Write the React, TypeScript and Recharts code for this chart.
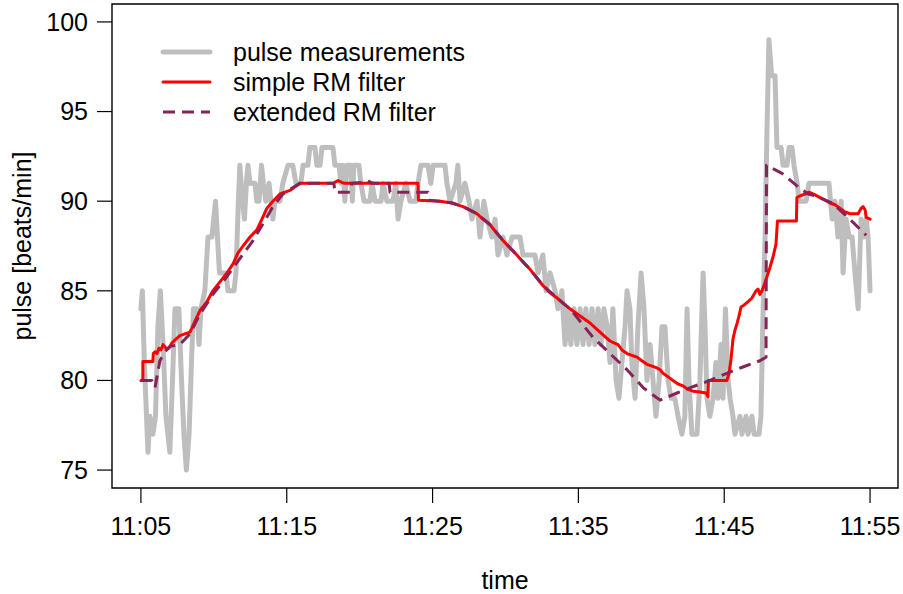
import React from 'react';
import { LineChart, Line, XAxis, YAxis, ReferenceArea, Legend } from 'recharts';

const FONT = '"Liberation Sans", Arial, Helvetica, sans-serif';
const FONT_SIZE = 25;

// time is in seconds after 11:05:00
const timeTicks = [0, 600, 1200, 1800, 2400, 3000];
const timeTickLabels = ['11:05', '11:15', '11:25', '11:35', '11:45', '11:55'];
const pulseTicks = [75, 80, 85, 90, 95, 100];

// [seconds, beats/min]
const pulseMeasurements: [number, number][] = [
  [0, 84], [6, 85], [14, 81], [23, 78], [29, 76], [37, 78], [49, 77], [60, 78], [70, 83], [80, 85],
  [91, 82], [103, 78], [119, 76], [130, 80], [140, 84], [156, 84], [167, 80], [177, 77], [187, 75], [198, 77],
  [208, 81], [216, 84], [230, 84], [239, 82], [247, 84], [263, 85], [276, 88], [292, 88], [307, 90], [315, 88],
  [323, 86], [350, 86], [358, 85], [383, 85], [391, 86], [401, 90], [407, 92], [418, 90], [426, 89], [434, 91],
  [440, 92], [449, 91], [469, 91], [477, 90], [486, 90], [496, 92], [504, 91], [514, 90], [527, 91], [535, 90],
  [543, 89], [551, 90], [572, 90], [584, 91], [605, 92], [625, 92], [638, 91], [658, 91], [667, 92], [687, 92],
  [695, 93], [716, 93], [724, 92], [737, 92], [745, 93], [790, 93], [798, 92], [815, 92], [823, 91], [831, 92],
  [839, 90], [848, 92], [864, 92], [870, 90], [876, 92], [897, 92], [905, 91], [918, 90], [942, 90], [951, 91],
  [963, 90], [988, 90], [996, 91], [1012, 90], [1037, 90], [1049, 91], [1058, 89], [1070, 90], [1090, 91], [1107, 90],
  [1132, 90], [1140, 91], [1152, 92], [1181, 92], [1193, 91], [1202, 92], [1251, 92], [1259, 91], [1272, 90], [1296, 91],
  [1304, 92], [1313, 90], [1333, 91], [1350, 90], [1362, 89], [1383, 90], [1395, 88], [1411, 90], [1424, 89], [1444, 88],
  [1457, 89], [1469, 87], [1490, 88], [1506, 87], [1527, 88], [1560, 88], [1572, 87], [1621, 87], [1634, 86], [1654, 87],
  [1667, 85], [1683, 86], [1704, 85], [1716, 84], [1732, 85], [1745, 82], [1757, 84], [1769, 82], [1782, 84], [1794, 82],
  [1807, 84], [1819, 82], [1831, 84], [1844, 82], [1856, 84], [1868, 82], [1881, 84], [1893, 82], [1905, 84], [1918, 83],
  [1930, 81], [1942, 84], [1955, 80], [1967, 79], [1979, 81], [1992, 83], [2000, 85], [2012, 84], [2020, 81], [2033, 79],
  [2045, 83], [2058, 86], [2070, 84], [2082, 80], [2095, 82], [2107, 80], [2119, 78], [2132, 80], [2144, 83], [2156, 83],
  [2169, 80], [2181, 79], [2197, 79], [2210, 78], [2226, 77], [2238, 78], [2247, 84], [2255, 80], [2267, 77], [2288, 77],
  [2300, 80], [2313, 86], [2321, 83], [2329, 79], [2341, 78], [2354, 79], [2366, 81], [2374, 79], [2387, 82], [2395, 79],
  [2405, 84], [2416, 80], [2424, 79], [2436, 78], [2444, 77], [2465, 78], [2473, 77], [2490, 78], [2498, 77], [2514, 78],
  [2523, 77], [2543, 77], [2551, 78], [2560, 84], [2568, 88], [2576, 94], [2584, 99], [2595, 97], [2609, 97], [2617, 93],
  [2634, 93], [2642, 92], [2658, 92], [2667, 93], [2679, 93], [2687, 92], [2700, 91], [2708, 90], [2737, 90], [2749, 91],
  [2831, 91], [2844, 89], [2856, 90], [2868, 88], [2881, 90], [2889, 86], [2901, 89], [2914, 88], [2926, 88], [2938, 86],
  [2951, 84], [2963, 89], [2975, 88], [2984, 89], [2992, 88], [3000, 85],
];

const simpleRM: [number, number][] = [
  [0, 80.0], [8, 80.0], [8, 81.05], [49, 81.05], [51, 81.5], [58, 81.6], [66, 81.5], [74, 81.8], [82, 81.7], [91, 82.0],
  [103, 81.8], [115, 81.8], [128, 82.1], [144, 82.3], [160, 82.5], [181, 82.6], [202, 82.7], [222, 83.3], [243, 83.9], [272, 84.4],
  [296, 85.0], [325, 85.5], [354, 86.0], [379, 86.5], [399, 87.1], [420, 87.5], [449, 88.0], [477, 88.4], [498, 89.0], [518, 89.6],
  [543, 90.0], [572, 90.4], [613, 90.6], [654, 91.0], [790, 91.0], [811, 91.15], [835, 91.0], [1140, 91.0], [1142, 90.05], [1230, 90.0],
  [1280, 89.9], [1325, 89.7], [1354, 89.5], [1383, 89.3], [1407, 89.0], [1436, 88.7], [1465, 88.2], [1490, 87.8], [1518, 87.4], [1547, 87.0],
  [1572, 86.6], [1601, 86.2], [1630, 85.7], [1654, 85.3], [1683, 84.9], [1712, 84.6], [1737, 84.3], [1765, 84.0], [1807, 83.6], [1848, 83.2],
  [1889, 82.7], [1913, 82.4], [1930, 82.2], [1946, 82.1], [1963, 82.0], [1979, 81.7], [2000, 81.5], [2020, 81.4], [2041, 81.3], [2061, 81.1],
  [2082, 80.9], [2103, 80.8], [2123, 80.7], [2136, 80.6], [2148, 80.4], [2169, 80.2], [2189, 80.0], [2210, 79.8], [2230, 79.7], [2251, 79.5],
  [2271, 79.4], [2300, 79.35], [2325, 79.3], [2333, 79.1], [2335, 80.0], [2411, 80.0], [2420, 80.4], [2428, 81.2], [2436, 82.3], [2444, 82.8],
  [2453, 83.2], [2461, 83.6], [2469, 84.1], [2481, 84.2], [2498, 84.4], [2514, 84.6], [2531, 85.0], [2539, 85.1], [2547, 84.8], [2555, 85.0],
  [2564, 85.3], [2576, 85.8], [2588, 86.3], [2601, 86.9], [2613, 87.6], [2619, 88.9], [2697, 88.9], [2699, 90.2], [2712, 90.3], [2733, 90.4],
  [2749, 90.5], [2774, 90.35], [2794, 90.2], [2815, 90.05], [2835, 89.9], [2856, 89.8], [2877, 89.6], [2897, 89.4], [2918, 89.3], [2951, 89.3],
  [2963, 89.6], [2971, 89.7], [2980, 89.5], [2984, 89.1], [3000, 89.0],
];

const extendedRM: [number, number][] = [
  [0, 80.0], [45, 80.0], [58, 79.6], [78, 81.1], [99, 81.6], [119, 81.9], [160, 82.0], [202, 82.6], [243, 83.7], [296, 84.8],
  [354, 85.8], [407, 86.8], [461, 87.8], [518, 89.1], [543, 89.7], [584, 90.4], [654, 91.0], [794, 91.0], [798, 90.5], [860, 90.5],
  [868, 91.0], [922, 91.05], [934, 91.15], [951, 91.0], [1021, 91.0], [1025, 90.5], [1181, 90.5], [1185, 90.05], [1230, 90.0], [1280, 89.9],
  [1325, 89.7], [1383, 89.3], [1436, 88.7], [1490, 87.8], [1547, 87.0], [1601, 86.2], [1654, 85.3], [1712, 84.6], [1765, 84.0], [1807, 83.3],
  [1860, 82.4], [1930, 81.5], [2000, 80.6], [2066, 79.6], [2136, 78.9], [2206, 79.3], [2271, 79.65], [2341, 80.0], [2411, 80.4], [2477, 80.75],
  [2547, 81.1], [2572, 81.3], [2574, 92.0], [2638, 91.55], [2704, 90.8], [2745, 90.4], [2774, 90.3], [2844, 89.9], [2909, 89.1], [2984, 88.1],
];

const toRows = (pairs: [number, number][]) => pairs.map(([t, v]) => ({ t, v }));

const series = [
  { name: 'pulse measurements', rows: toRows(pulseMeasurements), color: '#bebebe', width: 5, dash: undefined },
  { name: 'simple RM filter', rows: toRows(simpleRM), color: '#ff0000', width: 3, dash: undefined },
  { name: 'extended RM filter', rows: toRows(extendedRM), color: '#862458', width: 3, dash: '12 7' },
];

const X_DOMAIN = [-119, 3115];
const Y_DOMAIN = [74, 101];

const PlotLegend = () => (
  <svg width={330} height={95}>
    {series.map((s, i) => (
      <g key={s.name}>
        <line x1={13} x2={60} y1={17 + i * 30} y2={17 + i * 30} stroke={s.color} strokeWidth={s.width}
          strokeDasharray={s.dash} strokeLinecap={s.dash ? 'butt' : 'round'} />
        <text x={83} y={26 + i * 30} fontSize={FONT_SIZE} fontFamily={FONT} fill="#000">{s.name}</text>
      </g>
    ))}
  </svg>
);

const YTitle = ({ viewBox }: any) => {
  const cy = viewBox.y + viewBox.height / 2;
  return (
    <text x={31} y={cy} transform={`rotate(-90 31 ${cy})`} textAnchor="middle"
      fontSize={FONT_SIZE} fontFamily={FONT} fill="#000">pulse [beats/min]</text>
  );
};

const XTitle = ({ viewBox }: any) => (
  <text x={viewBox.x + viewBox.width / 2} y={589} textAnchor="middle"
    fontSize={FONT_SIZE} fontFamily={FONT} fill="#000">time</text>
);

const tickStyle = { fontSize: FONT_SIZE, fontFamily: FONT, fill: '#000' };

export default function App() {
  return (
    <div style={{ position: 'absolute', left: 0, top: 0, width: 903, height: 594, background: '#fff' }}>
      <LineChart width={903} height={594} margin={{ top: 4, right: 5, bottom: 0, left: 0 }}>
        <XAxis
          dataKey="t"
          type="number"
          domain={X_DOMAIN}
          ticks={timeTicks}
          tickFormatter={(t: number) => timeTickLabels[timeTicks.indexOf(t)]}
          axisLine={false}
          tickLine={{ stroke: '#000', strokeWidth: 1.2 }}
          tickSize={15}
          tickMargin={14}
          tick={tickStyle}
          height={106}
          interval={0}
          label={{ content: XTitle }}
        />
        <YAxis
          dataKey="v"
          type="number"
          domain={Y_DOMAIN}
          ticks={pulseTicks}
          axisLine={false}
          tickLine={{ stroke: '#000', strokeWidth: 1.2 }}
          tickSize={15}
          tickMargin={9}
          tick={tickStyle}
          width={112}
          interval={0}
          label={{ content: YTitle }}
        />
        <ReferenceArea x1={X_DOMAIN[0]} x2={X_DOMAIN[1]} y1={Y_DOMAIN[0]} y2={Y_DOMAIN[1]}
          fill="none" stroke="#000" strokeWidth={1.4} fillOpacity={0} />
        {series.map((s) => (
          <Line
            key={s.name}
            data={s.rows}
            dataKey="v"
            name={s.name}
            type="linear"
            stroke={s.color}
            strokeWidth={s.width}
            strokeDasharray={s.dash}
            strokeLinejoin="round"
            strokeLinecap={s.dash ? 'butt' : 'round'}
            dot={false}
            activeDot={false}
            isAnimationActive={false}
          />
        ))}
        <Legend
          content={PlotLegend}
          layout="vertical"
          align="center"
          verticalAlign="middle"
          wrapperStyle={{ left: 150, top: 35, width: 330, height: 95 }}
        />
      </LineChart>
    </div>
  );
}
